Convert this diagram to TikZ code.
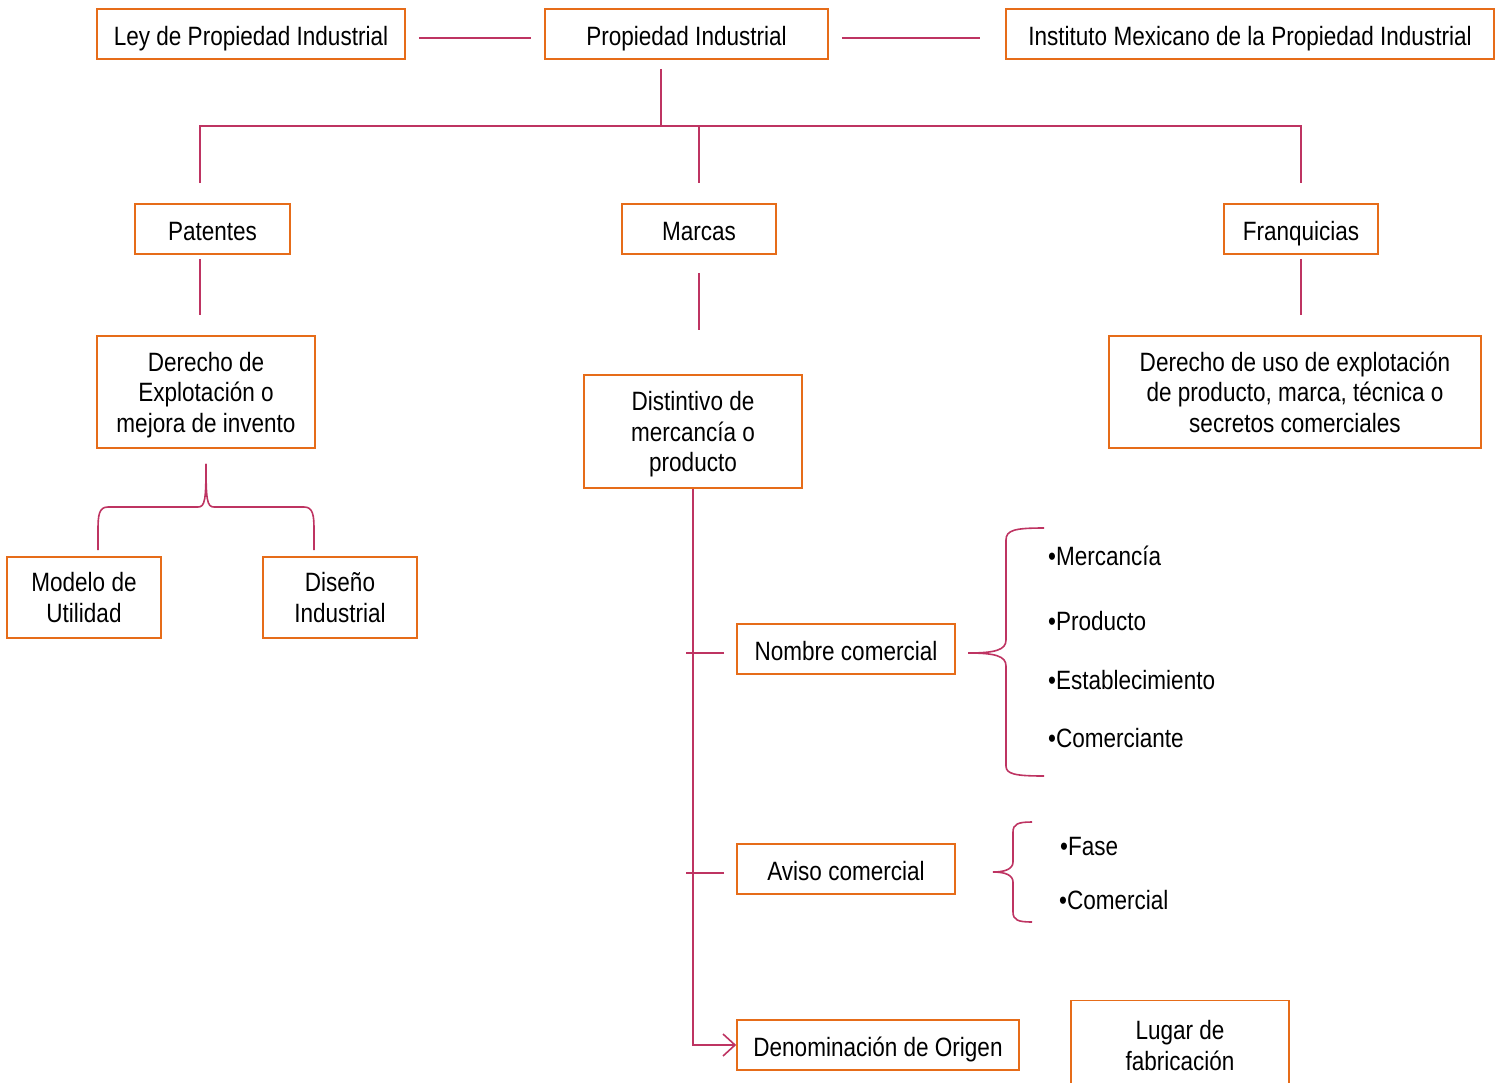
\documentclass[tikz,border=0pt]{standalone}
\usepackage{fontspec}
\setmainfont{Liberation Sans}[FakeStretch=0.85]
\usetikzlibrary{arrows.meta}
\definecolor{naranja}{RGB}{230,108,25}
\definecolor{carmin}{RGB}{190,52,98}
\tikzset{
  boite/.style={draw=naranja, line width=1.6pt, align=center, inner sep=0pt,
    text depth=0pt, font=\fontsize{26.5}{30.5}\selectfont},
  simple/.style={boite, text height=22pt},
  trait/.style={draw=carmin, line width=1.6pt},
  item/.style={anchor=west, inner sep=0pt, font=\fontsize{26.5}{30.5}\selectfont}
}
\begin{document}
\begin{tikzpicture}[x=1pt,y=-1pt]
\useasboundingbox (0,0) rectangle (1499,1082);
% top ligne
\node[simple, minimum width=308pt, minimum height=50pt] (ley) at (251,34) {Ley de Propiedad Industrial};
\node[simple, minimum width=283pt, minimum height=50pt] (pi) at (686.5,34) {Propiedad Industrial};
\node[simple, minimum width=488pt, minimum height=50pt] (imp) at (1250,34) {Instituto Mexicano de la Propiedad Industrial};
\draw[trait, shorten <=13pt, shorten >=13pt] ([yshift=-4pt]ley.east) -- ([yshift=-4pt]pi.west);
\draw[trait, shorten <=13pt, shorten >=25pt] ([yshift=-4pt]pi.east) -- ([yshift=-4pt]imp.west);
% second ligne
\node[simple, minimum width=155pt, minimum height=50pt] (pat) at (212.5,229) {Patentes};
\node[simple, minimum width=154pt, minimum height=50pt] (mar) at (699,229) {Marcas};
\node[simple, minimum width=154pt, minimum height=50pt] (fra) at (1301,229) {Franquicias};
\coordinate (busL) at (200,126);
\draw[trait] ([xshift=-25.5pt,yshift=-9pt]pi.south) -- ([xshift=-25.5pt]pi.south |- busL); % from the root
\draw[trait] ([yshift=20pt]pat.north -| busL) -- (busL) -- (busL -| fra.north) -- ([yshift=20pt]fra.north); % main bus
\draw[trait] (busL -| mar.north) -- ([yshift=20pt]mar.north);
% third ligne
\node[boite, minimum width=218pt, minimum height=112pt] (der) at (206,392) {Derecho de\\Explotación o\\mejora de invento};
\node[boite, minimum width=218pt, minimum height=113pt] (dis) at (693,431.5) {Distintivo de\\mercancía o\\producto};
\node[boite, minimum width=372pt, minimum height=112pt] (uso) at (1295,392) {Derecho de uso de explotación\\de producto, marca, técnica o\\secretos comerciales};
\draw[trait] ([yshift=-4pt]pat.south -| busL) -- ([yshift=20pt]der.north -| busL);
\draw[trait] ([yshift=-18pt]mar.south) -- ([yshift=44pt]mar.south |- dis.north);
\draw[trait] ([yshift=-4pt]fra.south) -- ([yshift=20pt]fra.south |- uso.north);
% patentes brace
\node[boite, minimum width=154pt, minimum height=81pt] (mod) at (84,597.5) {Modelo de\\Utilidad};
\node[boite, minimum width=154pt, minimum height=81pt] (dis2) at (340,597.5) {Diseño\\Industrial};
\coordinate (accL) at (98,550);
\coordinate (accR) at (314,550);
\draw[trait] ([yshift=-15pt]der.south) .. controls (206,500) and (205,507) .. (198,507) -- (108,507)
  .. controls (99,507) and (98,515) .. (98,530) -- (accL);
\draw[trait] ([yshift=-15pt]der.south) .. controls (206,500) and (207,507) .. (214,507) -- (304,507)
  .. controls (313,507) and (314,515) .. (314,530) -- (accR);
% marcas branch
\node[simple, minimum width=218pt, minimum height=50pt] (nom) at (846,649) {Nombre comercial};
\node[simple, minimum width=218pt, minimum height=50pt] (avi) at (846,869) {Aviso comercial};
\node[simple, minimum width=282pt, minimum height=50pt] (den) at (878,1045) {Denominación de Origen};
\node[boite, minimum width=218pt, minimum height=90pt] (lug) at (1180,1045.5) {Lugar de\\fabricación};
\draw[trait, -{Straight Barb[length=12pt, width=22pt]}] (dis.south) |- (den.west);
\draw[trait] ([xshift=-12pt,yshift=-4pt]nom.west) -- ++(-38,0); % tick
\draw[trait] ([xshift=-12pt,yshift=-4pt]avi.west) -- ++(-38,0); % tick
% nombre brace
\coordinate (picN) at (968,653);
\draw[trait] (1044,528) .. controls (1015,528) and (1006,530) .. (1006,540) -- (1006,640)
  .. controls (1006,650) and (995,653) .. (picN)
  .. controls (995,653) and (1006,656) .. (1006,666) -- (1006,766)
  .. controls (1006,774) and (1015,776) .. (1044,776);
\foreach \t/\y in {Mercancía/556, Producto/621, Establecimiento/680, Comerciante/738}
  \node[item] (b\y) at (1048,\y) {•\t};
% aviso brace
\coordinate (picA) at (993,872);
\draw[trait] (1032,822) .. controls (1018,822) and (1013,824) .. (1013,832) -- (1013,862)
  .. controls (1013,869) and (1005,872) .. (picA)
  .. controls (1005,872) and (1013,875) .. (1013,882) -- (1013,912)
  .. controls (1013,920) and (1018,922) .. (1032,922);
\node[item] (fase) at (1060,847) {•Fase};
\node[item] (com) at (1059,900) {•Comercial};
\end{tikzpicture}
\end{document}
